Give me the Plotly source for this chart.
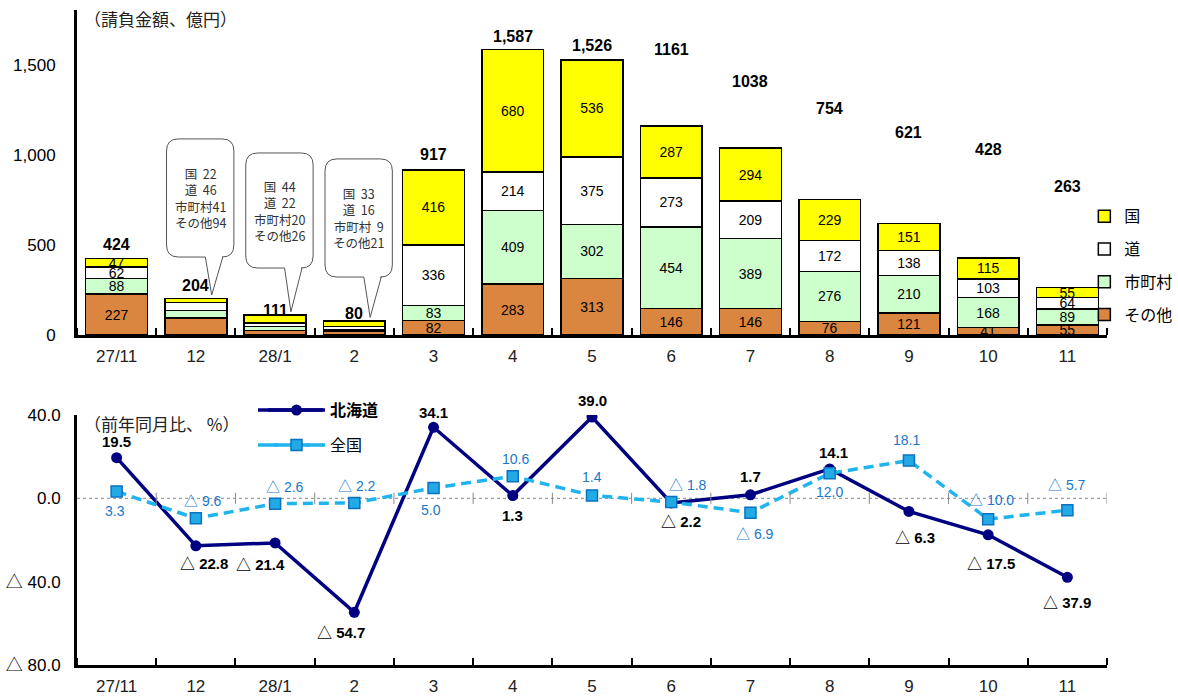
import plotly.graph_objects as go

# ---- data -------------------------------------------------------------
months = ["27/11", "12", "28/1", "2", "3", "4", "5", "6", "7", "8", "9", "10", "11"]

kuni = [47, 22, 44, 33, 416, 680, 536, 287, 294, 229, 151, 115, 55]          # 国
dou = [62, 46, 22, 16, 336, 214, 375, 273, 209, 172, 138, 103, 64]            # 道
shichoson = [88, 41, 20, 9, 83, 409, 302, 454, 389, 276, 210, 168, 89]       # 市町村
sonota = [227, 94, 26, 21, 82, 283, 313, 146, 146, 76, 121, 41, 55]          # その他
totals = [424, 204, 111, 80, 917, 1587, 1526, 1161, 1038, 754, 621, 428, 263]

hokkaido_yoy = [19.5, -22.8, -21.4, -54.7, 34.1, 1.3, 39.0, -2.2, 1.7, 14.1, -6.3, -17.5, -37.9]
national_yoy = [3.3, -9.6, -2.6, -2.2, 5.0, 10.6, 1.4, -1.8, -6.9, 12.0, 18.1, -10.0, -5.7]

# months whose breakdown is shown in a callout instead of inside the bar
callout_months = [1, 2, 3]
# totals printed without thousands separator
plain_total_months = [7, 8]

# ---- styling ----------------------------------------------------------
JP = "Liberation Sans, Arial, 'Noto Sans CJK JP', sans-serif"
CJK = "'Noto Sans CJK JP', sans-serif"
TICK = "'Liberation Sans Narrow', 'Liberation Sans', 'Noto Sans CJK JP', sans-serif"
C_KUNI, C_DOU, C_SHI, C_SONOTA = "#FFFF00", "#FFFFFF", "#CCFFCC", "#DA8540"
C_HOK, C_NAT, C_NAT_EDGE, C_NAT_TXT = "#000080", "#1FB4EE", "#0B72C0", "#1A78C8"
NAT_DASH = "10px,6px"

# pixel lift of each total label above its bar top
total_lift = [14, 13, 5, 7, 15, 13, 15, 76, 67, 91, 91, 108, 101]
# label offsets (xshift, yshift) in px for the two line series
hok_off = [(0, 16), (8, -18), (-15, -22), (-13, -20), (0, 15), (0, -20), (0, 17),
           (10, -19), (0, 18), (4, 16), (6, -26), (3, -29), (0, -25)]
nat_off = [(-2, -20), (7, 17), (10, 17), (3, 17), (-3, -22), (3, 17), (0, 18),
           (17, 17), (5, -21), (0, -19), (-2, 21), (3, 19), (0, 25)]

x = list(range(len(months)))
NB = "&nbsp;"

# plot area in pixels (for the paper-coordinate legend swatches)
PL, PW, PB, PH = 77, 1030, 34, 655
FIG_H = 699


def px_x(p):
    return (p - PL) / PW


def px_y(p):
    return (FIG_H - PB - p) / PH


def seg_text(vals):
    return ["" if i in callout_months else str(v) for i, v in enumerate(vals)]


def pct(v):
    return f"{v:.1f}" if v >= 0 else f"△ {abs(v):.1f}"


def pad2(v):
    return f"{v:>2}".replace(" ", NB + NB)


fig = go.Figure()

# ---- stacked bars (top panel) ----------------------------------------
for rank, (name, vals, color) in enumerate([("その他", sonota, C_SONOTA), ("市町村", shichoson, C_SHI),
                                            ("道", dou, C_DOU), ("国", kuni, C_KUNI)]):
    fig.add_trace(go.Bar(
        x=x, y=vals, name=name, legendgroup=name, legend="legend", legendrank=10 - rank,
        marker=dict(color=color, line=dict(color="black", width=1.5)),
        width=0.78, text=seg_text(vals), textposition="inside",
        insidetextanchor="middle", textangle=0,
        textfont=dict(family=JP, size=14, color="black"),
        xaxis="x", yaxis="y", hoverinfo="skip",
    ))

# ---- year-over-year lines (bottom panel) -------------------------------
fig.add_trace(go.Scatter(
    x=x, y=hokkaido_yoy, name="<b>北海道</b>", legendgroup="hok", legend="legend2",
    mode="lines+markers", line=dict(color=C_HOK, width=3.5),
    marker=dict(symbol="circle", size=11, color=C_HOK),
    xaxis="x2", yaxis="y2", hoverinfo="skip",
))
fig.add_trace(go.Scatter(
    x=x, y=national_yoy, name="全国", legendgroup="nat", legend="legend2",
    mode="lines+markers", line=dict(color=C_NAT, width=3.5, dash=NAT_DASH),
    marker=dict(symbol="square", size=11, color="#22AAE6",
                line=dict(color=C_NAT_EDGE, width=1.5)),
    xaxis="x2", yaxis="y2", hoverinfo="skip",
))
# small tick marks on the zero line
fig.add_trace(go.Scatter(
    x=[i + 0.5 for i in x], y=[0] * len(x), mode="markers", showlegend=False,
    marker=dict(symbol="line-ns-open", size=8, color="#888888",
                line=dict(color="#888888", width=1)),
    xaxis="x2", yaxis="y2", hoverinfo="skip",
))

annotations = []

# totals above bars
for i, t in enumerate(totals):
    txt = str(t) if i in plain_total_months else f"{t:,}"
    annotations.append(dict(
        x=i, y=t, xref="x", yref="y", text=f"<b>{txt}</b>", showarrow=False,
        yanchor="middle", yshift=total_lift[i],
        font=dict(family=JP, size=16, color="black"),
    ))

# callouts with the breakdown of the small months
callout_boxes = {1: (1089, 433), 2: (1011, 372), 3: (978, 322)}
shapes = []
rx, ry = 0.15, 67
for i in callout_months:
    top, bot = callout_boxes[i]
    x0, x1 = i - 0.37, i + 0.48
    tx0, tx1, tip_x = i + 0.12, i + 0.34, i + 0.2
    tip_y = totals[i] + 18
    path = (f"M{x0 + rx},{top} L{x1 - rx},{top} Q{x1},{top} {x1},{top - ry} "
            f"L{x1},{bot + ry} Q{x1},{bot} {x1 - rx},{bot} "
            f"L{tx1},{bot} L{tip_x},{tip_y} L{tx0},{bot} "
            f"L{x0 + rx},{bot} Q{x0},{bot} {x0},{bot + ry} "
            f"L{x0},{top - ry} Q{x0},{top} {x0 + rx},{top} Z")
    shapes.append(dict(type="path", path=path, xref="x", yref="y",
                       line=dict(color="#555555", width=1), fillcolor="white"))
    lines = [f"国{NB}{NB}{pad2(kuni[i])}", f"道{NB}{NB}{pad2(dou[i])}",
             f"市町村{pad2(shichoson[i])}", f"その他{pad2(sonota[i])}"]
    annotations.append(dict(
        x=(x0 + x1) / 2, y=(top + bot) / 2, xref="x", yref="y",
        text="<br>".join(lines), showarrow=False, align="center",
        font=dict(family=CJK, size=12.5, color="#333333"),
    ))

# line value labels
for i, v in enumerate(hokkaido_yoy):
    annotations.append(dict(
        x=i, y=v, xref="x2", yref="y2", text=f"<b>{pct(v)}</b>", showarrow=False,
        xshift=hok_off[i][0], yshift=hok_off[i][1], yanchor="middle",
        font=dict(family=JP, size=15, color="black"),
    ))
for i, v in enumerate(national_yoy):
    annotations.append(dict(
        x=i, y=v, xref="x2", yref="y2", text=pct(v), showarrow=False,
        xshift=nat_off[i][0], yshift=nat_off[i][1], yanchor="middle",
        font=dict(family=JP, size=14, color=C_NAT_TXT),
    ))

# axis captions
annotations.append(dict(x=0.005, y=1.0, xref="paper", yref="paper", xanchor="left",
                        yanchor="middle", yshift=-8, text="（請負金額、億円）", showarrow=False,
                        font=dict(family=CJK, size=17, color="#222222")))
annotations.append(dict(x=0.005, y=0.3817, xref="paper", yref="paper", xanchor="left",
                        yanchor="middle", yshift=-9, text="（前年同月比、 %）", showarrow=False,
                        font=dict(family=CJK, size=17, color="#222222")))

# dotted zero line in the bottom panel
shapes.append(dict(type="line", xref="x2 domain", yref="y2", x0=0, x1=1, y0=0, y1=0,
                   line=dict(color="#888888", width=1, dash="dot"), layer="below"))

# longer swatch lines behind the line-chart legend entries
shapes.append(dict(type="line", xref="paper", yref="paper", x0=px_x(258), x1=px_x(323),
                   y0=px_y(410), y1=px_y(410), line=dict(color=C_HOK, width=3.5)))
shapes.append(dict(type="line", xref="paper", yref="paper", x0=px_x(258), x1=px_x(323),
                   y0=px_y(445), y1=px_y(445), line=dict(color=C_NAT, width=3.5, dash=NAT_DASH)))

xaxis_common = dict(
    range=[-0.5, 12.5], tickmode="array", tickvals=x, ticktext=months,
    ticks="", showline=True, linecolor="black", linewidth=3, showgrid=False,
    zeroline=False, tickfont=dict(family=TICK, size=17, color="#222222"),
    ticklabelstandoff=4,
    minor=dict(tickmode="array", tickvals=[i + 0.5 for i in range(-1, 13)],
               ticks="inside", ticklen=7, tickwidth=2, tickcolor="black"),
    fixedrange=True,
)

fig.update_layout(
    width=1178, height=FIG_H,
    margin=dict(l=PL, r=1178 - PL - PW, t=FIG_H - PB - PH, b=PB, autoexpand=False),
    paper_bgcolor="white", plot_bgcolor="white",
    barmode="stack", bargap=0.22,
    uniformtext=dict(minsize=14, mode="show"),
    xaxis=dict(**xaxis_common, anchor="y", domain=[0, 1]),
    yaxis=dict(domain=[0.5038, 1], range=[0, 1805], tickvals=[0, 500, 1000, 1500],
               ticktext=["0", "500", "1,000", "1,500"], showline=True, linecolor="black",
               linewidth=3, showgrid=False, zeroline=False, ticks="",
               ticklabelstandoff=15, anchor="x",
               tickfont=dict(family=JP, size=17, color="black")),
    xaxis2=dict(**xaxis_common, anchor="y2", domain=[0, 1]),
    yaxis2=dict(domain=[0, 0.3817], range=[-80, 40], tickvals=[-80, -40, 0, 40],
                ticktext=["△ 80.0", "△ 40.0", "0.0", "40.0"], showline=True,
                linecolor="black", linewidth=3, showgrid=False, zeroline=False,
                ticks="", ticklabelstandoff=10, anchor="x2",
                tickfont=dict(family=JP, size=17, color="black")),
    legend=dict(x=0.978, y=0.711, xanchor="left", yanchor="top",
                traceorder="grouped", tracegroupgap=9,
                font=dict(family=CJK, size=16, color="black"),
                bgcolor="rgba(0,0,0,0)", itemclick=False, itemdoubleclick=False),
    legend2=dict(x=px_x(263), y=0.415, xanchor="left", yanchor="top",
                 traceorder="grouped", tracegroupgap=11, itemwidth=57,
                 font=dict(family=CJK, size=16, color="black"),
                 bgcolor="rgba(0,0,0,0)", itemclick=False, itemdoubleclick=False),
    annotations=annotations,
    shapes=shapes,
    showlegend=True,
)

fig.write_html("out.html")
